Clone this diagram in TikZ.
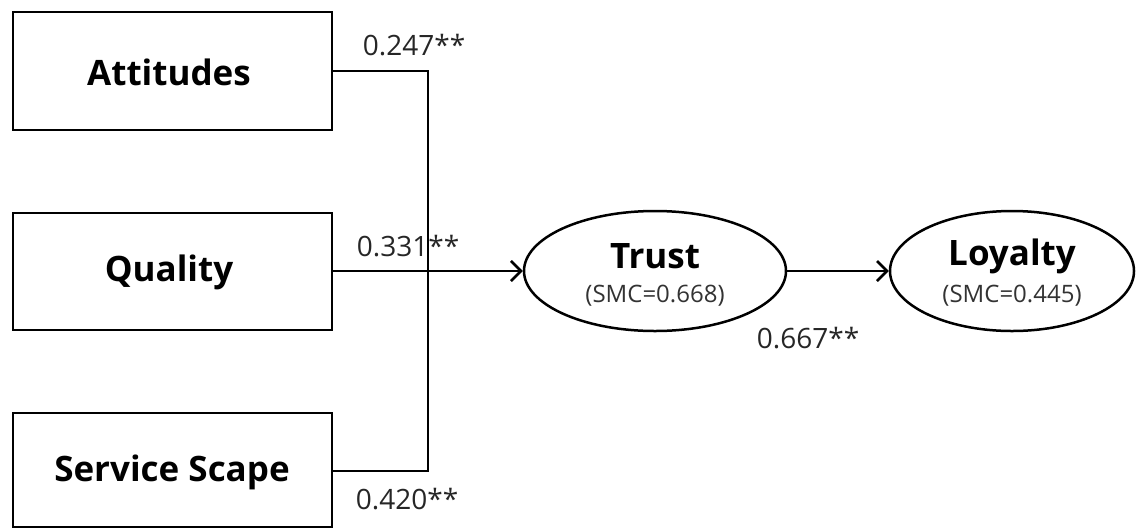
\documentclass[tikz,border=0pt]{standalone}
\usepackage{fontspec}
\setmainfont{Open Sans}
\usetikzlibrary{arrows.meta,shapes.geometric}
\begin{document}
\begin{tikzpicture}[x=1pt,y=-1pt,
  box/.style={draw,line width=2.5pt,inner sep=0pt},
  lat/.style={draw,ellipse,line width=2.5pt,inner sep=0pt},
  big/.style={font=\fontsize{35}{38}\selectfont\bfseries},
  small/.style={font=\fontsize{24}{27}\selectfont,text=black!80},
  coef/.style={font=\fontsize{28}{31}\selectfont,text=black!85},
  link/.style={line width=2.5pt},
  arr/.style={line width=2.5pt,-{Straight Barb[length=10pt,width=20pt,line width=2.5pt]}}]
\useasboundingbox (0,0) rectangle (1137,528);
\draw[box] (13,12) rectangle (332,130);
\draw[box] (13,213) rectangle (332,330);
\draw[box] (13,413) rectangle (332,527);
\node[big] (att) at (169,72) {Attitudes};
\node[big] (qua) at (169,272) {Quality};
\node[big] (ser) at (172,472) {Service Scape};
\coordinate (attE) at (332,71);
\coordinate (quaE) at (332,271);
\coordinate (serE) at (332,471);
\coordinate (jt) at (428,71);
\coordinate (jb) at (428,471);
\node[lat,minimum width=262pt,minimum height=120pt] (trust) at (655,271) {};
\node[lat,minimum width=244pt,minimum height=120pt] (loy) at (1012,271) {};
\node[big] (tt) at (655,256) {Trust};
\node[small] (ts) at (655,296) {(SMC=0.668)};
\node[big] (lt) at (1012,256) {Loyalty};
\node[small] (ls) at (1012,296) {(SMC=0.445)};
\draw[link] (attE) -- (jt) -- (jb) -- (serE);
\draw[arr] (quaE) -- (trust.west);
\draw[arr] (trust.east) -- (loy.west);
\node[coef] (c1) at (414,45) {0.247**};
\node[coef] (c2) at (408,246) {0.331**};
\node[coef] (c3) at (407,499) {0.420**};
\node[coef] (c4) at (808,338) {0.667**};
\end{tikzpicture}
\end{document}
